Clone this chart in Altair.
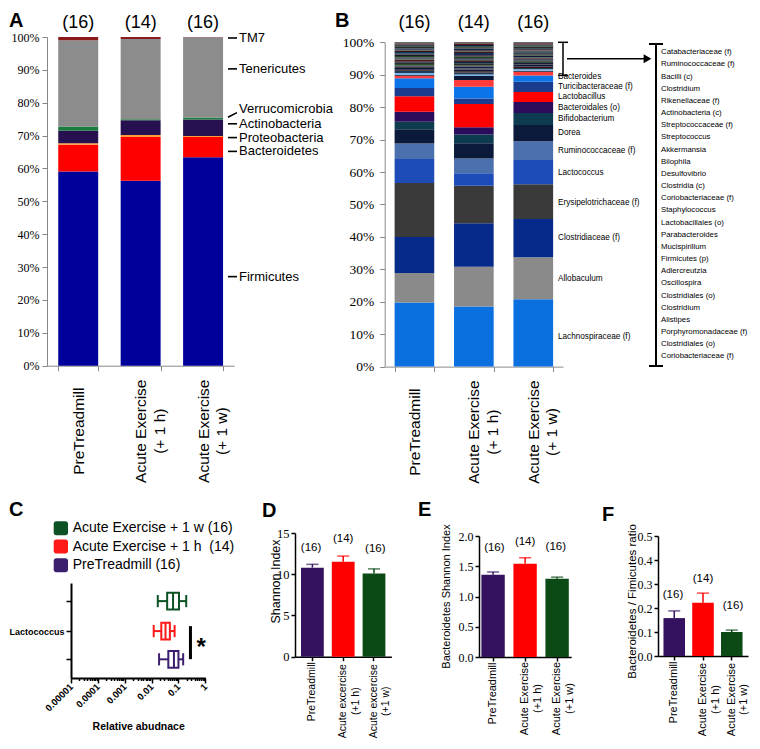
import altair as alt
import pandas as pd

SANS = "Liberation Sans"
SERIF = "Liberation Serif"
W, H = 744, 733  # drawing canvas

# ---------------- shared ----------------
groups_top = ["PreTreadmill", "Acute Exercise\n(+ 1 h)", "Acute Exercise\n(+ 1 w)"]
counts = ["(16)", "(14)", "(16)"]

# ---------------- Panel A (phylum) ----------------
phyla = ["Firmicutes", "Bacteroidetes", "Proteobacteria", "Actinobacteria",
         "Verrucomicrobia", "Tenericutes", "TM7"]
phyla_colors = ["#00009a", "#ff0000", "#ff9933", "#26104f", "#1b7a3e", "#8c8c8c", "#8b1a1a"]
a_pre = [59.1, 8.1, 0.5, 3.8, 1.3, 26.2, 1.0]
a_1h = [56.3, 13.3, 0.6, 4.5, 0.3, 24.4, 0.6]
a_1w = [63.4, 6.2, 0.3, 5.0, 0.6, 24.45, 0.05]
a_label_y = [27.1, 65.2, 69.4, 73.6, 78.0, 90.3, 99.7]
a_dash_y1 = [27.1, 65.2, 69.4, 73.6, 75.6, 90.3, 99.7]
a_dash_y2 = [27.1, 65.2, 69.4, 73.6, 77.0, 90.3, 99.7]

# ---------------- Panel B (genus) ----------------
b_major = ["Lachnospiraceae (f)", "Allobaculum", "Clostridiaceae (f)", "Erysipelotrichaceae (f)",
           "Lactococcus", "Ruminococcaceae (f)", "Dorea", "Bifidobacterium", "Bacteroidales (o)",
           "Lactobacillus", "Turicibacteraceae (f)", "Bacteroides"]
b_major_colors = ["#0a6fdf", "#8a8a8a", "#062a8a", "#3a3a3a", "#1d4cb8", "#4a70ae",
                  "#0b1a3a", "#0d3b4f", "#2b0b5c", "#ff0000", "#1a3b8e", "#0a74e8"]
b_pre_major = [19.8, 9.1, 11.1, 16.6, 7.4, 4.8, 4.4, 2.3, 3.1, 4.8, 2.5, 3.0]
b_1h_major = [18.5, 12.3, 13.4, 11.6, 3.8, 4.6, 4.7, 2.7, 2.2, 7.2, 1.7, 3.6]
b_1w_major = [20.8, 12.9, 11.8, 10.7, 7.5, 5.8, 5.0, 3.7, 3.4, 3.1, 3.1, 2.0]
# label positions (percent) of the genus names beside the third bar
b_label_y = [9.0, 27.0, 39.7, 50.4, 59.6, 66.4, 71.9, 76.3, 79.8, 83.0, 86.1, 89.3]

b_minor = ["Catabacteriaceae (f)", "Ruminococcaceae (f)", "Bacilli (c)", "Clostridium",
           "Rikenellaceae (f)", "Actinobacteria (c)", "Streptococcaceae (f)", "Streptococcus",
           "Akkermansia", "Bilophila", "Desulfovibrio", "Clostridia (c)", "Coriobacteriaceae (f)",
           "Staphylococcus", "Lactobacillales (o)", "Parabacteroides", "Mucispirillum",
           "Firmicutes (p)", "Adlercreutzia", "Oscillospira", "Clostridiales (o)", "Clostridium",
           "Alistipes", "Porphyromonadaceae (f)", "Clostridiales (o)", "Coriobacteriaceae (f)"]
b_minor_colors = ["#3a3a3a", "#5c1e1e", "#0b1a3a", "#1e3d24", "#2b2b2b", "#14284f", "#4a4a4a",
                  "#3d1414", "#0d3b4f", "#23235a", "#1a1a1a", "#244424", "#0b1a3a", "#555555",
                  "#4a1c1c", "#102a40", "#2e2e2e", "#2f4f2f", "#1a1a4a", "#404040", "#0b1838",
                  "#3b1010", "#1c3c5c", "#7fb2e5", "#0b1838", "#ff3b3b"]
# listed in the same (top -> bottom) order as b_minor
b_pre_minor = [0.4, 0.3, 0.4, 0.3, 0.5, 0.4, 0.3, 0.4, 0.5, 0.3, 0.4, 0.5, 0.3, 0.4, 0.6, 0.3,
               0.4, 0.5, 0.3, 0.4, 0.6, 0.3, 0.7, 0.6, 0.2, 0.8]
b_1h_minor = [0.4, 0.4, 0.4, 0.3, 0.4, 0.5, 0.4, 0.5, 0.3, 0.4, 0.4, 0.5, 0.4, 0.5, 0.3, 0.5,
              0.5, 0.4, 0.6, 0.3, 0.5, 0.4, 0.6, 0.5, 1.2, 2.1]
b_1w_minor = [0.3, 0.4, 0.3, 0.3, 0.5, 0.3, 0.4, 0.3, 0.4, 0.2, 0.4, 0.3, 0.5, 0.3, 0.3, 0.4,
              0.4, 0.4, 0.4, 0.2, 0.5, 0.4, 0.4, 0.5, 0.3, 1.1]

# ---------------- Panel C (Lactococcus box plots) ----------------
c_groups = ["Acute Exercise + 1 w (16)", "Acute Exercise + 1 h\u00a0 (14)", "PreTreadmill (16)"]
c_colors = ["#0d5225", "#ff1a1a", "#3d1f70"]
c_pos = [2.655, 1.62, 0.645]
c_lo = [0.017, 0.012, 0.019]
c_q1 = [0.038, 0.023, 0.042]
c_med = [0.063, 0.033, 0.068]
c_q3 = [0.105, 0.048, 0.100]
c_hi = [0.195, 0.072, 0.150]

# ---------------- Panels D, E, F ----------------
bar_colors = ["#35125f", "#ff0000", "#0b4a15"]
d_groups = ["PreTreadmill", "Acute excercise\n(+1 h)", "Acute excercise\n(+1 w)"]
d_mean = [10.8, 11.5, 10.1]
d_err = [0.4, 0.7, 0.55]
d_lab_y = [13.2, 14.3, 13.1]

e_groups = ["PreTreadmill", "Acute Exercise\n(+1 h)", "Acute Exercise\n(+1 w)"]
e_mean = [1.36, 1.54, 1.295]
e_err = [0.045, 0.10, 0.025]
e_lab_y = [1.80, 1.90, 1.81]

f_groups = ["PreTreadmill", "Acute Exercise\n(+1 h)", "Acute Exercise\n(+1 w)"]
f_mean = [0.158, 0.222, 0.100]
f_err = [0.030, 0.040, 0.008]
f_lab_y = [0.253, 0.320, 0.208]


# ---------------- layout helpers (canvas pixels) ----------------
def cx(v):
    return v - 6


def cyt(v):
    return v + 2


def cyb(v):
    return v - 12


one = pd.DataFrame({"k": [0]})
layers = []


def letter(ch, x, y):
    return alt.Chart(one).mark_text(text=ch, font=SANS, fontSize=20, fontWeight="bold",
                                    align="left", baseline="alphabetic", color="black").encode(
        x=alt.value(x), y=alt.value(y))


def nx(field, scale):
    return alt.X(field, scale=scale, axis=None, title=None)


def ny(field, scale, **kw):
    return alt.Y(field, scale=scale, axis=None, title=None, **kw)


def top_x_axis(ybot):
    return alt.Axis(orient="bottom", offset=ybot - H,
                    labelAngle=270, labelAlign="center", labelBaseline="middle",
                    labelPadding=60, labelExpr="split(datum.label, '\\n')",
                    labelFont=SANS, labelFontSize=15.5, labelLineHeight=18.4,
                    labelColor="black", labelLimit=400, labelOverlap=False,
                    tickBand="extent", tickSize=5, tickColor="#888888",
                    domainColor="#888888")


def pct_axis(size, pad, x0):
    return alt.Axis(orient="left", offset=-x0, values=list(range(0, 101, 10)),
                    labelExpr="datum.value + '%'",
                    labelFont=SERIF, labelFontSize=size, labelColor="black",
                    tickSize=5, labelPadding=pad, tickColor="#888888", labelOverlap=False,
                    domainColor="#888888", grid=False)


df_cnt = pd.DataFrame({"group": groups_top, "n": counts, "top": [100.0] * 3})

# ======== Panel A ========
A_X = [cx(45), cx(232.3)]
A_Y = [cyt(355.7), cyt(27)]
df_a = pd.DataFrame([{"group": g, "taxon": t, "value": v, "idx": i}
                     for g, vals in zip(groups_top, [a_pre, a_1h, a_1w])
                     for i, (t, v) in enumerate(zip(phyla, vals))])
xa = alt.Scale(domain=groups_top, range=A_X, paddingInner=0.36, paddingOuter=0.18)
ya = alt.Scale(domain=[0, 100], range=A_Y, nice=False, zero=False)
layers.append(alt.Chart(df_a).mark_bar().encode(
    x=alt.X("group:N", scale=xa, axis=top_x_axis(A_Y[0]), title=None),
    y=alt.Y("value:Q", stack="zero", scale=ya, axis=pct_axis(12, 3, A_X[0]), title=None),
    color=alt.Color("taxon:N", scale=alt.Scale(domain=phyla, range=phyla_colors), legend=None),
    order=alt.Order("idx:Q")))
layers.append(alt.Chart(df_cnt).mark_text(font=SANS, fontSize=18, dy=-14, baseline="middle",
                                          color="black").encode(
    x=nx("group:N", xa), y=ny("top:Q", ya), text="n:N"))
df_alab = pd.DataFrame({"taxon": phyla, "ly": a_label_y, "d1": a_dash_y1, "d2": a_dash_y2})
layers.append(alt.Chart(df_alab).mark_rule(color="black", strokeWidth=1.6).encode(
    x=alt.value(A_X[0] + 181), x2=alt.value(A_X[0] + 190), y=ny("d1:Q", ya), y2="d2:Q"))
layers.append(alt.Chart(df_alab).mark_text(align="left", baseline="middle", font=SANS,
                                           fontSize=13, color="black").encode(
    x=alt.value(A_X[0] + 192), y=ny("ly:Q", ya), text="taxon:N"))
layers.append(letter("A", 1, 18.5))

# ======== Panel B ========
B_X = [cx(382.7), cx(561)]
B_Y = [cyt(356.6), cyt(32.3)]
b_keys = [f"M{i}" for i in range(len(b_major))] + [f"m{j}" for j in range(len(b_minor))]
b_colors = b_major_colors + b_minor_colors
rows = []
for g, maj, mnr in zip(groups_top, [b_pre_major, b_1h_major, b_1w_major],
                       [b_pre_minor, b_1h_minor, b_1w_minor]):
    for i, v in enumerate(maj):
        rows.append({"group": g, "key": f"M{i}", "value": v, "idx": i})
    n = len(mnr)
    for j in range(n - 1, -1, -1):  # bottom of the list sits lowest in the stack
        rows.append({"group": g, "key": f"m{j}", "value": mnr[j], "idx": len(maj) + (n - 1 - j)})
df_b = pd.DataFrame(rows)
xb = alt.Scale(domain=groups_top, range=B_X, paddingInner=0.333, paddingOuter=0.1667)
yb = alt.Scale(domain=[0, 100], range=B_Y, nice=False, zero=False)
layers.append(alt.Chart(df_b).mark_bar().encode(
    x=alt.X("group:N", scale=xb, axis=top_x_axis(B_Y[0]), title=None),
    y=alt.Y("value:Q", stack="zero", scale=yb, axis=pct_axis(13.5, 6, B_X[0]), title=None),
    color=alt.Color("key:N", scale=alt.Scale(domain=b_keys, range=b_colors), legend=None),
    order=alt.Order("idx:Q")))
layers.append(alt.Chart(df_cnt).mark_text(font=SANS, fontSize=18, dy=-19.3, baseline="middle",
                                          color="black").encode(
    x=nx("group:N", xb), y=ny("top:Q", yb), text="n:N"))
top_major = sum(b_1w_major)
df_blab = pd.DataFrame({"name": b_major, "ly": b_label_y})
layers.append(alt.Chart(df_blab).mark_text(align="left", baseline="middle", font=SANS,
                                           fontSize=8.2, color="black").encode(
    x=alt.value(B_X[0] + 173.3), y=ny("ly:Q", yb), text="name:N"))
df_br = pd.DataFrame({"y0": [top_major], "y1": [100.0], "ym": [(100.0 + top_major) / 2]})
df_brc = pd.DataFrame({"cy": [100.0, top_major]})
layers.append(alt.Chart(df_br).mark_rule(color="black", strokeWidth=1.5).encode(
    x=alt.value(B_X[1]), y=ny("y0:Q", yb), y2="y1:Q"))
layers.append(alt.Chart(df_brc).mark_rule(color="black", strokeWidth=1.5).encode(
    x=alt.value(B_X[1] - 5), x2=alt.value(B_X[1] + 5), y=ny("cy:Q", yb)))
layers.append(alt.Chart(df_br).mark_rule(color="black", strokeWidth=1.5).encode(
    x=alt.value(cx(565)), x2=alt.value(cx(642)), y=ny("ym:Q", yb)))
layers.append(alt.Chart(df_br).mark_point(shape="triangle-right", filled=True, size=80,
                                          color="black", opacity=1).encode(
    x=alt.value(cx(645.5)), y=ny("ym:Q", yb)))
# bracket grouping the minor taxa list
layers.append(alt.Chart(one).mark_rule(color="black", strokeWidth=2).encode(
    x=alt.value(cx(654)), y=alt.value(cyt(34)), y2=alt.value(cyt(356))))
for yy in (cyt(34), cyt(356)):
    layers.append(alt.Chart(one).mark_rule(color="black", strokeWidth=2).encode(
        x=alt.value(cx(647)), x2=alt.value(cx(661)), y=alt.value(yy)))
df_list = pd.DataFrame({"k": list(range(len(b_minor))), "name": b_minor})
layers.append(alt.Chart(df_list).mark_text(align="left", baseline="middle", font=SANS,
                                           fontSize=7.8, color="black").encode(
    x=alt.value(cx(659)),
    y=alt.Y("k:O", scale=alt.Scale(range=[cyt(42.3), cyt(346.3)], padding=0), axis=None,
            title=None),
    text="name:N"))
layers.append(letter("B", cx(333), 18.5))

# ======== Panel C ========
C_X = [cx(69), cx(203.3)]
C_Y = [cyb(682), cyb(587)]
df_c = pd.DataFrame({"grp": c_groups, "pos": c_pos, "lo": c_lo, "q1": c_q1, "med": c_med,
                     "q3": c_q3, "hi": c_hi})
df_c["b0"] = df_c["pos"] - 0.29
df_c["b1"] = df_c["pos"] + 0.29
df_c["c0"] = df_c["pos"] - 0.21
df_c["c1"] = df_c["pos"] + 0.21
c_tick_values = [m * 10.0 ** e for e in range(-5, 0) for m in range(1, 10)] + [1.0]
major_test = "abs(log(datum.value)/LN10 - round(log(datum.value)/LN10)) < 0.01"
xc = alt.Scale(type="log", domain=[0.00001, 1], range=C_X, nice=False)
yc = alt.Scale(domain=[0, 3.28], range=C_Y, nice=False, zero=False)
xc_axis = alt.Axis(orient="bottom", offset=C_Y[0] - H, values=c_tick_values,
                   labelExpr=f"{major_test} ? format(datum.value, '.5~f') : ''",
                   labelAngle=315, labelAlign="right", labelBaseline="middle",
                   labelFont=SANS, labelFontWeight="bold", labelFontSize=9.5, labelColor="black",
                   labelPadding=2, labelOverlap=False, labelBound=False, labelFlush=False,
                   tickSize={"condition": {"test": major_test, "value": 5}, "value": 2.5},
                   tickColor="black", tickWidth=1.5, domainColor="black", domainWidth=2,
                   grid=False, titleFont=SANS, titleFontSize=10.5, titleFontWeight="bold",
                   titleColor="black", titleX=(C_X[0] + C_X[1]) / 2, titleY=48,
                   titleAlign="center", titleBaseline="middle")
yc_axis = alt.Axis(orient="left", offset=-C_X[0], values=c_pos,
                   labelExpr="datum.value == 1.62 ? 'Lactococcus' : ''",
                   domainColor="black", domainWidth=2, tickColor="black", tickWidth=1.5,
                   tickSize=5, labelFont=SANS, labelFontWeight="bold", labelFontSize=9,
                   labelColor="black", labelPadding=2, grid=False, labelOverlap=False)
base_c = alt.Chart(df_c)
c_color = alt.Color("grp:N", scale=alt.Scale(domain=c_groups, range=c_colors), legend=None)
layers.append(base_c.mark_rule(strokeWidth=2).encode(
    x=alt.X("lo:Q", scale=xc, axis=xc_axis, title="Relative abudnace"), x2="hi:Q",
    y=alt.Y("pos:Q", scale=yc, axis=yc_axis, title=None), color=c_color))
for fld in ("lo", "hi"):
    layers.append(base_c.mark_rule(strokeWidth=2).encode(
        x=nx(f"{fld}:Q", xc), y=ny("c0:Q", yc), y2="c1:Q", color=c_color))
layers.append(base_c.mark_rect(fill="white", strokeWidth=2).encode(
    x=nx("q1:Q", xc), x2="q3:Q", y=ny("b0:Q", yc), y2="b1:Q",
    stroke=alt.Stroke("grp:N", scale=alt.Scale(domain=c_groups, range=c_colors), legend=None)))
layers.append(base_c.mark_rule(strokeWidth=2).encode(
    x=nx("med:Q", xc), y=ny("b0:Q", yc), y2="b1:Q", color=c_color))
df_sig = pd.DataFrame({"x": [0.28], "y0": [0.65], "y1": [1.79], "sx": [0.7], "sy": [1.22]})
layers.append(alt.Chart(df_sig).mark_rule(color="black", strokeWidth=3).encode(
    x=nx("x:Q", xc), y=ny("y0:Q", yc), y2="y1:Q"))
layers.append(alt.Chart(df_sig).mark_text(text="*", font=SANS, fontSize=24, fontWeight="bold",
                                          baseline="middle", color="black", dy=5).encode(
    x=nx("sx:Q", xc), y=ny("sy:Q", yc)))
# legend rows
for name, col, yy in zip(c_groups, c_colors, [cyb(532.3), cyb(550.5), cyb(569.2)]):
    layers.append(alt.Chart(one).mark_rect(color=col, cornerRadius=2.5).encode(
        x=alt.value(cx(51.7)), x2=alt.value(cx(66)), y=alt.value(yy - 7), y2=alt.value(yy + 7)))
    layers.append(alt.Chart(one).mark_text(text=name, align="left", baseline="middle",
                                           font=SANS, fontSize=14, color="black").encode(
        x=alt.value(cx(70.7)), y=alt.value(yy)))
layers.append(letter("C", 1, cyb(520)))


# ======== Panels D, E, F ========
def bar_panel(glabels, means, errs, laby, ymax, yvals, yfmt, ytitle, title_x, title_y,
              title_size, PX, PY, pin, pout, label_size, center_pad, ylab_size):
    df = pd.DataFrame({"g": glabels, "m": means, "t": [a + b for a, b in zip(means, errs)],
                       "ly": laby, "n": counts})
    test = f"datum.value == '{glabels[0]}'"
    xs = alt.Scale(domain=glabels, range=PX, paddingInner=pin, paddingOuter=pout)
    ys = alt.Scale(domain=[0, ymax], range=PY, nice=False, zero=False)
    xax = alt.Axis(orient="bottom", offset=PY[0] - H, labelAngle=270, labelBaseline="middle",
                   labelAlign={"condition": {"test": test, "value": "right"}, "value": "center"},
                   labelPadding={"condition": {"test": test, "value": 1}, "value": center_pad},
                   labelExpr="split(datum.label, '\\n')", labelFont=SANS,
                   labelFontSize=label_size, labelLineHeight=12.5, labelColor="black",
                   labelLimit=300, labelOverlap=False, tickSize=4, tickWidth=1.5,
                   tickColor="black", domainColor="black", domainWidth=1.5)
    yax = alt.Axis(orient="left", offset=-PX[0], values=yvals, format=yfmt, labelFont=SERIF,
                   labelFontSize=ylab_size, labelColor="black", tickSize=4, tickWidth=1.5,
                   tickColor="black", domainColor="black", domainWidth=1.5, labelPadding=2,
                   grid=False, labelOverlap=False,
                   titleFont=SANS, titleFontSize=title_size, titleFontWeight="normal",
                   titleColor="black", titleAngle=270, titleAlign="center",
                   titleBaseline="middle", titleX=title_x, titleY=title_y)
    base = alt.Chart(df)
    color = alt.Color("g:N", scale=alt.Scale(domain=glabels, range=bar_colors), legend=None)
    return [
        base.mark_bar().encode(
            x=alt.X("g:N", scale=xs, axis=xax, title=None),
            y=alt.Y("m:Q", scale=ys, axis=yax, title=ytitle), color=color),
        base.mark_rule(strokeWidth=1.5).encode(
            x=nx("g:N", xs), y=ny("m:Q", ys), y2="t:Q", color=color),
        base.mark_tick(thickness=1.5, size=12).encode(
            x=nx("g:N", xs), y=ny("t:Q", ys), color=color),
        base.mark_text(font=SANS, fontSize=11.5, color="black", baseline="middle").encode(
            x=nx("g:N", xs), y=ny("ly:Q", ys), text="n:N"),
    ]


layers += bar_panel(d_groups, d_mean, d_err, d_lab_y, 15, [0, 5, 10, 15], "d", "Shannon Index",
                    -20, cyb(585), 12.5, [cx(293), cx(293) + 96.4], [cyb(660.7), cyb(537)],
                    0.26, 0.195, 10.5, 40, 12.5)
layers.append(letter("D", cx(260), cyb(521)))
layers += bar_panel(e_groups, e_mean, e_err, e_lab_y, 2.0, [0, 0.5, 1.0, 1.5, 2.0], ".1f",
                    "Bacteroidetes Shannon Index", -32.6, cyb(600), 11,
                    [cx(477), cx(477) + 92.2], [cyb(661), cyb(540)], 0.27, 0.075, 11, 37, 12)
layers.append(letter("E", cx(416), cyb(520)))
layers += bar_panel(f_groups, f_mean, f_err, f_lab_y, 0.5, [0, 0.1, 0.2, 0.3, 0.4, 0.5], ".1f",
                    "Bacteroidetes / Fimicutes ratio", -25.7, cyb(605), 11.5,
                    [cx(656), cx(656) + 90], [cyb(660), cyb(540)], 0.25, 0.19, 11, 39, 12)
layers.append(letter("F", cx(600), cyb(525)))

chart = alt.layer(*layers).resolve_scale(
    x="independent", y="independent", color="independent", stroke="independent").properties(
    width=W, height=H, autosize=alt.AutoSizeParams(type="none"),
    padding={"left": 0, "top": 0, "right": 0, "bottom": 0}, background="white").configure_view(
    stroke="transparent")

chart.save("out.html", embed_options={"renderer": "svg", "actions": False})
